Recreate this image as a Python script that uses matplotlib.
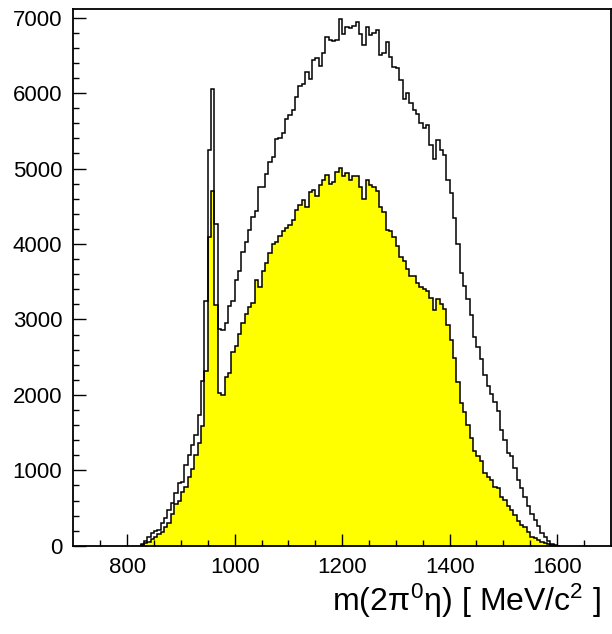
import matplotlib
matplotlib.use("Agg")
import matplotlib.pyplot as plt
import numpy as np

plt.rcParams['font.family'] = ['Liberation Sans', 'DejaVu Sans']
plt.rcParams['mathtext.fontset'] = 'custom'
plt.rcParams['mathtext.rm'] = 'Liberation Sans'
plt.rcParams['mathtext.it'] = 'Liberation Sans'
plt.rcParams['mathtext.bf'] = 'Liberation Sans'

# histogram binning: 6.25 MeV bins, first filled bin starts at 825 MeV
bin_lo = 825.0
bin_w = 6.25

# all events (open histogram)
total = [30, 70, 120, 170, 200, 215, 300, 370, 480, 570,
         700, 830, 850, 1075, 1210, 1340, 1470, 1740, 2180, 3250,
         5250, 6050, 4260, 2880, 2860, 2955, 3178, 3240, 3524, 3643,
         3890, 4032, 4189, 4354, 4435, 4760, 4760, 4925, 5080, 5155,
         5395, 5400, 5470, 5655, 5710, 5770, 5950, 6095, 6115, 6283,
         6190, 6440, 6460, 6360, 6535, 6748, 6702, 6695, 6702, 6975,
         6780, 6880, 6860, 6890, 6935, 6785, 6635, 6880, 6775, 6800,
         6840, 6510, 6530, 6673, 6484, 6341, 6330, 6175, 5925, 6000,
         5868, 5773, 5726, 5607, 5540, 5570, 5310, 5130, 5380, 5250,
         5185, 4850, 4680, 4340, 3995, 3610, 3445, 3265, 3060, 2765,
         2630, 2480, 2270, 2120, 2010, 1900, 1790, 1540, 1400, 1229,
         1185, 1030, 875, 765, 654, 530, 420, 345, 265, 170,
         115, 60, 28, 8, 0]

# selected events (yellow histogram)
selected = [10, 35, 57, 89, 124, 155, 181, 256, 309, 424,
            557, 588, 712, 778, 911, 1017, 1207, 1362, 1582, 2320,
            4091, 4708, 3191, 2030, 1993, 2244, 2291, 2575, 2646, 2812,
            2954, 3072, 3167, 3215, 3523, 3428, 3641, 3746, 3878, 3997,
            4030, 4100, 4172, 4210, 4248, 4319, 4447, 4517, 4589, 4494,
            4683, 4720, 4630, 4778, 4849, 4911, 4800, 4816, 4960, 5010,
            4900, 4944, 4849, 4897, 4897, 4754, 4598, 4849, 4778, 4754,
            4707, 4494, 4423, 4186, 4172, 4091, 3973, 3831, 3774, 3665,
            3570, 3570, 3488, 3428, 3405, 3381, 3287, 3130, 3275, 3200,
            3137, 2920, 2730, 2490, 2170, 1890, 1770, 1600, 1430, 1260,
            1185, 1118, 964, 911, 875, 778, 765, 654, 610, 530,
            477, 411, 323, 279, 256, 190, 124, 110, 80, 57,
            44, 27, 10, 0, 0]

edges = bin_lo + bin_w * np.arange(len(total) + 1)

fig = plt.figure(figsize=(6.12, 6.34), dpi=100)
ax = fig.add_axes([0.120, 0.139, 0.878, 0.847])

ax.stairs(selected, edges, fill=True, color='#ffff00', zorder=1)
ax.stairs(selected, edges, color='black', linewidth=1.1, zorder=2)
ax.stairs(total, edges, color='black', linewidth=1.1, zorder=3)

ax.set_xlim(700, 1700)
ax.set_ylim(0, 7115)
ax.set_xticks([800, 1000, 1200, 1400, 1600])
ax.set_xticks(np.arange(750, 1700, 50), minor=True)
ax.set_yticks(np.arange(0, 7001, 1000))
ax.set_yticks(np.arange(0, 7100, 200), minor=True)

ax.tick_params(which='both', direction='in', top=False, right=False,
               labelsize=16, width=1.0)
ax.tick_params(which='major', length=9)
ax.tick_params(which='minor', length=4.5)
ax.tick_params(axis='y', pad=8)
ax.tick_params(axis='x', pad=8)
for s in ax.spines.values():
    s.set_linewidth(1.3)

fig.text(0.982, 0.022, r'm(2$\pi^{0}\eta$) [ MeV/c$^{2}$ ]',
         ha='right', va='bottom', fontsize=23)

fig.savefig('out.png', dpi=100)
